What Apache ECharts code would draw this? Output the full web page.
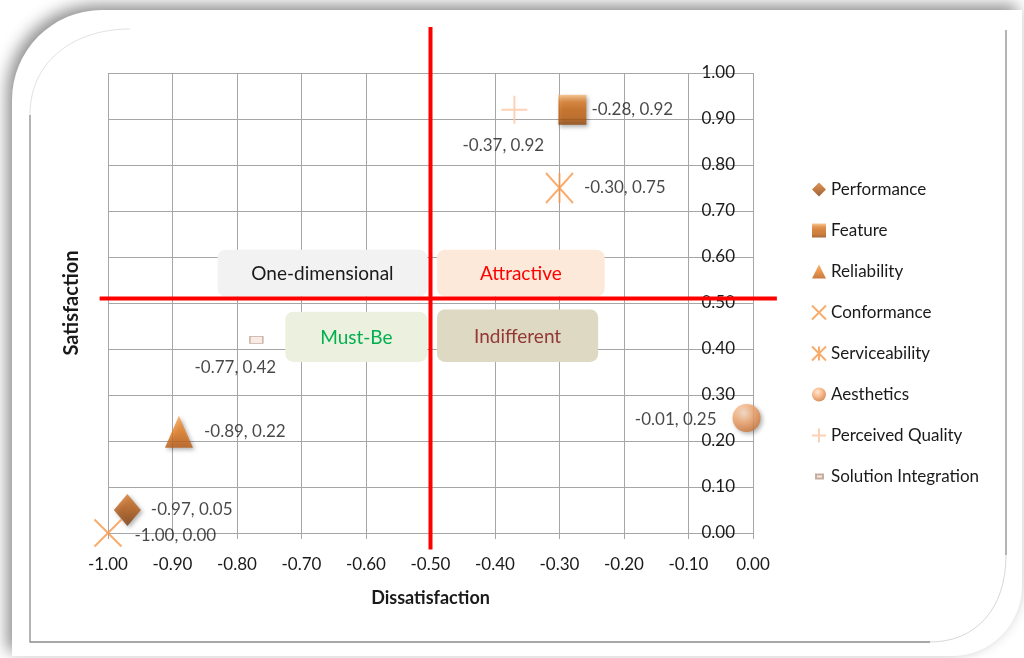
<!DOCTYPE html>
<html>
<head>
<meta charset="utf-8">
<title>Kano quality dimensions</title>
<script src="https://cdn.jsdelivr.net/npm/echarts@6/dist/echarts.min.js"></script>
<style>
  html, body { margin: 0; padding: 0; background: #ffffff; }
  #chart { width: 1024px; height: 658px; }
</style>
</head>
<body>
<div id="chart"></div>
<script>
// ---- data -------------------------------------------------------------
const dimensions = ['Performance', 'Feature', 'Reliability', 'Conformance',
  'Serviceability', 'Aesthetics', 'Perceived Quality', 'Solution Integration'];
const dissatisfaction = [-0.97, -0.28, -0.89, -1.00, -0.30, -0.01, -0.37, -0.77];
const satisfaction    = [ 0.05,  0.92,  0.22,  0.00,  0.75,  0.25,  0.92,  0.42];

// quadrant dividers (value coordinates)
const dividerX = -0.5;
const dividerY = 0.51;
const verticalDividerSpan = [-0.036, 1.10];    // satisfaction range of the vertical rule
const horizontalDividerSpan = [-1.013, 0.037]; // dissatisfaction range of the horizontal rule

const quadrantNames = ['One-dimensional', 'Attractive', 'Must-Be', 'Indifferent'];

// ---- styling ----------------------------------------------------------
const FONT = 'Lato, "Open Sans", sans-serif';
const TEXT = '#1a1a1a';
const GRID = '#a6a6a6';

const markerShadow = { shadowBlur: 4, shadowColor: 'rgba(0,0,0,0.38)', shadowOffsetX: 2, shadowOffsetY: 2 };
const lg = (stops) => new echarts.graphic.LinearGradient(0, 0, 0, 1,
  stops.map((c, i) => ({ offset: i / (stops.length - 1), color: c })));

const markerStyles = [
  { symbol: 'diamond', size: [27, 32], label: { position: 'right', distance: 10 },
    itemStyle: Object.assign({ color: lg(['#d77a2c', '#b45a14', '#7c3a0c']) }, markerShadow) },
  { symbol: 'rect', size: [28, 30], label: { position: 'right', distance: 5 },
    itemStyle: Object.assign({ color: lg(['#f6b878', '#dc7a26', '#c8660f', '#c0600f', '#8e440a']) }, markerShadow) },
  { symbol: 'triangle', size: [28, 32], label: { position: 'right', distance: 11 },
    itemStyle: Object.assign({ color: lg(['#f6a04a', '#e47a1e', '#b85a12']) }, markerShadow) },
  { symbol: 'path://M0,0L20,20M20,0L0,20', size: [27, 27], label: { position: 'right', distance: 12, offset: [0, 3] },
    itemStyle: { color: '#f79646', borderColor: '#f79646', borderWidth: 2 } },
  { symbol: 'path://M0,0L20,20M20,0L0,20M10,0L10,20', size: [27, 30], label: { position: 'right', distance: 10 },
    itemStyle: { color: '#f79646', borderColor: '#f79646', borderWidth: 2 } },
  { symbol: 'circle', size: [28, 28], label: { position: 'left', distance: 16, offset: [0, 2] },
    itemStyle: Object.assign({ color: new echarts.graphic.RadialGradient(0.4, 0.32, 0.75, [
      { offset: 0, color: '#fde3cc' }, { offset: 0.45, color: '#f6aa72' }, { offset: 1, color: '#c96e30' }]) }, markerShadow) },
  { symbol: 'path://M10,0L10,20M0,10L20,10', size: [26, 28], label: { position: 'bottom', distance: 12, offset: [-11, 0] },
    itemStyle: { color: '#fbc6a2', borderColor: '#fbc6a2', borderWidth: 2 } },
  { symbol: 'rect', size: [13, 7], label: { position: 'bottom', distance: 15, offset: [-21, 0] },
    itemStyle: { color: '#f6e6de', borderColor: '#b99a88', borderWidth: 1 } }
];

const quadrantBoxes = [
  { x: [-0.83, -0.505], y: [0.616, 0.514], fill: '#f2f2f2', text: '#1a1a1a' },
  { x: [-0.49, -0.23],  y: [0.616, 0.514], fill: '#fde9d9', text: '#ff0000' },
  { x: [-0.725, -0.505], y: [0.481, 0.372], fill: '#ebf1de', text: '#00b050' },
  { x: [-0.49, -0.24],  y: [0.486, 0.372], fill: '#ddd9c3', text: '#953735' }
];

const fmt = (v) => v.toFixed(2);

// ---- series -----------------------------------------------------------
const pointSeries = dimensions.map((name, i) => {
  const st = markerStyles[i];
  return {
    name: name,
    type: 'scatter',
    z: 4,
    symbol: st.symbol,
    symbolSize: st.size,
    itemStyle: st.itemStyle,
    label: Object.assign({
      show: true,
      color: TEXT,
      fontFamily: FONT,
      fontSize: 17,
      formatter: (p) => fmt(p.value[0]) + ', ' + fmt(p.value[1])
    }, st.label),
    emphasis: { disabled: true },
    data: [[dissatisfaction[i], satisfaction[i]]]
  };
});

const chart = echarts.init(document.getElementById('chart'), null, { renderer: 'canvas' });

chart.setOption({
  backgroundColor: '#ffffff',
  animation: false,
  textStyle: { fontFamily: FONT },
  grid: { left: 108, right: 271, top: 73, bottom: 125 },
  xAxis: {
    type: 'value', min: -1, max: 0, interval: 0.1,
    name: 'Dissatisfaction', nameLocation: 'middle', nameGap: 56,
    nameTextStyle: { fontFamily: FONT, fontWeight: 'bold', fontSize: 18, color: TEXT },
    axisLine: { show: true, lineStyle: { color: GRID, width: 1 } },
    axisTick: { show: true, length: 6, lineStyle: { color: GRID } },
    axisLabel: { formatter: fmt, fontSize: 17, color: TEXT, fontFamily: FONT, margin: 23 },
    splitLine: { show: true, lineStyle: { color: GRID, width: 1 } }
  },
  yAxis: [
    {
      type: 'value', min: 0, max: 1, interval: 0.1, position: 'right',
      axisLine: { show: false },
      axisTick: { show: false },
      axisLabel: { inside: true, formatter: fmt, fontSize: 17, color: TEXT, fontFamily: FONT, margin: 18 },
      splitLine: { show: true, lineStyle: { color: GRID, width: 1 } }
    },
    {
      type: 'value', min: 0, max: 1, position: 'left',
      name: 'Satisfaction', nameLocation: 'middle', nameGap: 26,
      nameTextStyle: { fontFamily: FONT, fontWeight: 'bold', fontSize: 20, color: TEXT },
      axisLine: { show: false }, axisTick: { show: false },
      axisLabel: { show: false }, splitLine: { show: false }
    }
  ],
  legend: {
    orient: 'vertical', left: 806, top: 176,
    itemWidth: 14, itemHeight: 14, itemGap: 24,
    selectedMode: false,
    textStyle: { fontFamily: FONT, fontSize: 17, color: TEXT, lineHeight: 17 },
    data: dimensions.map((n, i) => i === 7
      ? { name: n, icon: 'path://M0,0M4,5L11,5L11,9L4,9ZM14,14' }
      : { name: n })
  },
  series: pointSeries
});

// ---- frame, quadrant captions and dividers ------------------------------
const graphics = [
  { type: 'rect', z: -20, silent: true,
    shape: { x: 12, y: 10, width: 1010, height: 646, r: [90, 0, 70, 0] },
    style: { fill: '#ffffff', shadowBlur: 16, shadowColor: 'rgba(0,0,0,0.45)', shadowOffsetX: -5, shadowOffsetY: -5 } },
  { type: 'polyline', z: -10, silent: true,
    shape: { points: [[30, 115], [30, 642], [930, 642]] },
    style: { stroke: '#8c8c8c', lineWidth: 1.3, fill: null } },
  { type: 'line', z: -10, silent: true,
    shape: { x1: 1006, y1: 30, x2: 1006, y2: 555 },
    style: { stroke: '#8c8c8c', lineWidth: 1.3 } },
  { type: 'bezierCurve', z: -10, silent: true,
    shape: { x1: 30, y1: 115, cpx1: 30, cpy1: 60, cpx2: 75, cpy2: 29, x2: 130, y2: 29 },
    style: { stroke: '#e2e2e2', lineWidth: 1, fill: null } },
  { type: 'bezierCurve', z: -10, silent: true,
    shape: { x1: 930, y1: 642, cpx1: 975, cpy1: 642, cpx2: 1006, cpy2: 610, x2: 1006, y2: 555 },
    style: { stroke: '#d8d8d8', lineWidth: 1, fill: null } }
];

const toPx = (x, y) => chart.convertToPixel({ gridIndex: 0 }, [x, y]);

quadrantBoxes.forEach((b, i) => {
  const p0 = toPx(b.x[0], b.y[0]);
  const p1 = toPx(b.x[1], b.y[1]);
  graphics.push({
    type: 'rect', z: 1, silent: true,
    shape: { x: p0[0], y: p0[1], width: p1[0] - p0[0], height: p1[1] - p0[1], r: 8 },
    style: { fill: b.fill }
  });
  graphics.push({
    type: 'text', z: 1, silent: true,
    x: (p0[0] + p1[0]) / 2, y: (p0[1] + p1[1]) / 2 + 1,
    style: { text: quadrantNames[i], fill: b.text, font: '19px ' + FONT, align: 'center', verticalAlign: 'middle' }
  });
});

// red quadrant rules, running a little past the plot area
const v0 = toPx(dividerX, verticalDividerSpan[0]);
const v1 = toPx(dividerX, verticalDividerSpan[1]);
const h0 = toPx(horizontalDividerSpan[0], dividerY);
const h1 = toPx(horizontalDividerSpan[1], dividerY);
graphics.push(
  { type: 'line', z: 3, silent: true,
    shape: { x1: v0[0], y1: v0[1], x2: v1[0], y2: v1[1] },
    style: { stroke: '#ff0000', lineWidth: 4 } },
  { type: 'line', z: 3, silent: true,
    shape: { x1: h0[0], y1: h0[1], x2: h1[0], y2: h1[1] },
    style: { stroke: '#ff0000', lineWidth: 4 } }
);

chart.setOption({ graphic: graphics });
</script>
</body>
</html>
